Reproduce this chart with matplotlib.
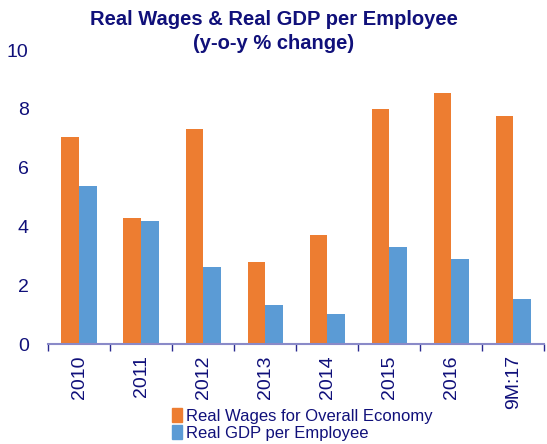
import numpy as np
from matplotlib import pyplot as plt
from matplotlib.patches import Patch

plt.rcParams['font.family'] = ['Liberation Sans', 'DejaVu Sans']

categories = ['2010', '2011', '2012', '2013', '2014', '2015', '2016', '9M:17']
real_wages = [7.04, 4.29, 7.31, 2.79, 3.71, 7.99, 8.54, 7.76]
gdp_per_employee = [5.37, 4.18, 2.62, 1.33, 1.02, 3.30, 2.89, 1.53]

navy = '#10107a'
orange = '#ED7D31'
blue = '#5B9BD5'

fig = plt.figure(figsize=(5.47, 4.44), dpi=100)
ax = fig.add_axes([0.088, 0.225, 0.907, 0.662])

x = np.arange(len(categories))
w = 0.285
ax.bar(x - w / 2, real_wages, w, color=orange, label='Real Wages for Overall Economy')
ax.bar(x + w / 2, gdp_per_employee, w, color=blue, label='Real GDP per Employee')

ax.set_xlim(-0.5, len(categories) - 0.5)
ax.set_ylim(0, 10)
ax.set_yticks([0, 2, 4, 6, 8, 10])
ax.tick_params(axis='y', length=0, labelsize=14, colors=navy, pad=14)

ax.set_xticks(x)
ax.set_xticklabels(categories, rotation=90, fontsize=14, color=navy)
ax.set_xticks(np.arange(len(categories) + 1) - 0.5, minor=True)
ax.tick_params(axis='x', which='major', length=0, pad=8)
ax.tick_params(axis='x', which='minor', length=5, color='#2a2a90', width=1)

for s in ['top', 'right', 'left']:
    ax.spines[s].set_visible(False)
ax.spines['bottom'].set_color('#8a8ac8')
ax.spines['bottom'].set_linewidth(1.5)

fig.text(0.5, 0.977, 'Real Wages & Real GDP per Employee\n(y-o-y % change)',
         ha='center', va='top', fontsize=14.5, fontweight='bold', color=navy,
         linespacing=1.3)

handles = [Patch(color=orange), Patch(color=blue)]
fig.legend(handles, ['Real Wages for Overall Economy', 'Real GDP per Employee'],
           loc='lower left', bbox_to_anchor=(0.297, -0.015), frameon=False,
           fontsize=12, labelcolor=navy, handlelength=0.6, handleheight=0.9,
           handletextpad=0.2, labelspacing=0.05, borderaxespad=0.2)

fig.savefig('out.png', dpi=100)
